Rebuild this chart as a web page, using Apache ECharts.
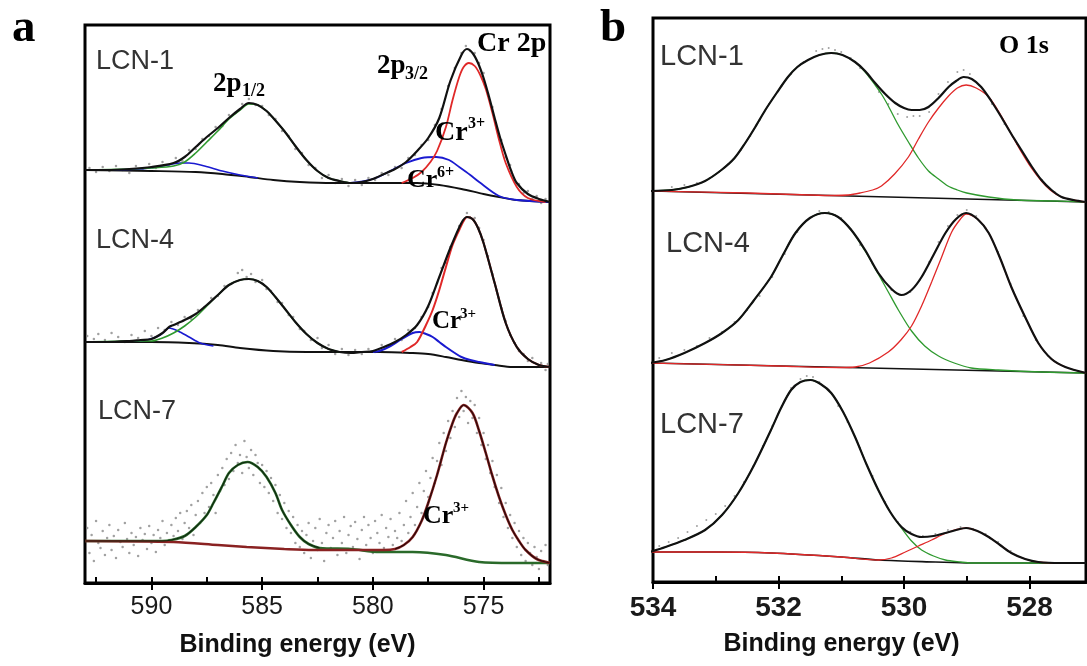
<!DOCTYPE html>
<html><head><meta charset="utf-8">
<script src="https://cdn.jsdelivr.net/npm/echarts@6/dist/echarts.min.js"></script>
<style>html,body{margin:0;padding:0;background:#fff}#c{width:1087px;height:666px}</style>
</head><body><div id="c"></div><script>
// ---------- Panel a : Cr 2p ----------
const aMajorTicks = [575, 580, 585, 590];
const aMinorTicks = [572.5, 577.5, 582.5, 587.5, 592.5];
// LCN-1
const a1Dots = [[592.8,415],[592.5,411],[592.2,416],[591.9,412],[591.6,417],[591.3,413],[591.0,410],[590.7,417],[590.4,414],[590.1,419],[589.8,415],[589.5,421],[589.2,418],[588.9,425],[588.6,422],[588.3,433],[588.0,434],[587.7,444],[587.4,447],[587.1,456],[586.8,457],[586.5,468],[586.2,470],[585.9,479],[585.6,484],[585.3,478],[585.0,477],[584.7,468],[584.4,464],[584.1,452],[583.8,447],[583.5,434],[583.2,430],[582.9,418],[582.6,415],[582.3,405],[582.0,408],[581.7,400],[581.4,404],[581.1,397],[580.8,403],[580.5,398],[580.2,405],[579.9,403],[579.6,410],[579.3,408],[579.0,416],[578.7,415],[578.4,425],[578.1,428],[577.8,438],[577.5,443],[577.2,458],[576.9,474],[576.6,497],[576.3,515],[576.0,530],[575.8,537],[575.6,532],[575.4,530],[575.2,520],[575.0,510],[574.8,489],[574.6,476],[574.4,455],[574.2,443],[574.0,426],[573.8,418],[573.6,403],[573.4,399],[573.2,390],[573.0,392],[572.8,384],[572.6,387],[572.4,380],[572.2,384]];
const a1Fit = [[593,413],[592,413],[591,414],[590,416],[589,420],[588.5,426],[588,436],[587.5,446],[587,455],[586.5,465],[586,474],[585.6,480],[585.2,478],[584.8,472],[584.5,465],[584,452],[583.5,437],[583,423],[582.5,412],[582,405],[581.5,402],[581,400],[580.5,401],[580,404],[579.5,409],[579,414],[578.5,421],[578,432],[577.5,445],[577,465],[576.5,502],[576,528],[575.75,534],[575.5,530],[575.25,520],[575,505],[574.75,486],[574.5,465],[574.25,445],[574,428],[573.75,412],[573.5,400],[573,389],[572.5,384],[572,381]];
const a1Bg = [[593,413],[590,412],[588,411],[586.8,409],[585.6,406],[584.5,403],[583.3,401],[581.8,400],[578,400],[577,398],[576,394],[575,389],[574.3,386],[573.5,383],[572,381]];
const a1P12 = [[593,413],[591,414],[590,415],[589,417],[588.5,421],[588,430],[587.5,441],[587,452],[586.5,464],[586,473],[585.6,479],[585.2,478],[584.8,472],[584.5,465],[584,452],[583.5,437],[583,423],[582.5,412],[582,405],[581.5,402],[581,400]];
const a1P12Cr6 = [[592,413],[590.5,414],[589.5,417],[588.7,420],[588.3,420],[587.6,417],[586.8,412],[586,408],[585.2,405]];
const a1Cr3 = [[578.7,400],[578.2,405],[577.8,411],[577.4,421],[577.1,432],[576.7,456],[576.4,483],[576.1,506],[575.9,516],[575.66,520],[575.4,517],[575.15,508],[574.9,494],[574.6,470],[574.3,443],[574,420],[573.5,396],[573,385],[572.2,381]];
const a1Cr6 = [[581,400],[580,404],[579.3,411],[578.5,420],[577.8,425],[577.14,426],[576.56,423],[576.1,416],[575.6,408],[575.2,401],[574.3,387],[573.5,383],[572.05,381]];
// LCN-4
const a4Dots = [[592.9,247],[592.6,244],[592.4,249],[592.1,243],[591.8,250],[591.5,246],[591.2,241],[590.9,248],[590.6,245],[590.3,252],[590.0,247],[589.7,255],[589.4,253],[589.1,261],[588.8,258],[588.5,266],[588.2,264],[587.9,273],[587.6,276],[587.3,285],[587.0,287],[586.7,297],[586.4,299],[586.1,310],[585.9,313],[585.7,306],[585.5,309],[585.3,301],[585.0,303],[584.8,294],[584.6,292],[584.3,281],[584.1,280],[583.8,268],[583.6,266],[583.3,254],[583.1,252],[582.8,243],[582.5,245],[582.3,235],[582.0,238],[581.7,229],[581.4,234],[581.1,228],[580.8,233],[580.5,229],[580.2,234],[579.9,231],[579.6,238],[579.3,237],[579.0,244],[578.7,243],[578.4,253],[578.1,255],[577.8,266],[577.5,276],[577.3,290],[577.1,300],[576.9,315],[576.7,320],[576.5,336],[576.3,344],[576.1,357],[575.9,363],[575.75,370],[575.6,365],[575.4,365],[575.2,355],[575.0,343],[574.8,327],[574.6,309],[574.4,292],[574.2,275],[574.0,262],[573.8,248],[573.6,240],[573.4,232],[573.2,229],[573.0,222],[572.8,225],[572.6,216],[572.4,220],[572.2,213],[572.1,219]];
const a4Fit = [[593,241],[592,241],[591,242],[590.5,243],[590,244],[589.5,250],[589.2,256],[589,258],[588.5,263],[588,269],[587.5,278],[587,288],[586.5,298],[586,303],[585.6,304],[585.2,302],[584.8,296],[584.4,286],[584,275],[583.5,261],[583,249],[582.5,240],[582,234],[581.5,231],[581,230],[580.5,231],[580,232],[579.5,236],[579,241],[578.5,248],[578,258],[577.5,277],[577,306],[576.5,335],[576,360],[575.75,366],[575.5,364],[575.25,355],[575,340],[574.5,300],[574,260],[573.5,236],[573,224],[572.5,218],[572,216]];
const a4Bg = [[593,241],[590,241],[588.3,240],[587,238],[586,235],[584.5,232],[583,231],[579.7,231],[578.2,230],[577.5,229],[576.7,226],[576,223],[575.2,220],[574.5,218],[573.7,216],[572,216]];
const a4P12 = [[593,241],[591,242],[590,242],[589.5,245],[589,250],[588.5,257],[588,266],[587.5,277],[587,288],[586.5,298],[586,303],[585.6,304],[585.2,302],[584.8,296],[584.4,286],[584,275],[583.5,261],[583,249],[582.5,240],[582,234],[581.5,231]];
const a4P12Cr6 = [[591,242],[590.2,243],[589.6,248],[589.2,255],[588.8,252],[588.3,246],[587.8,240],[587.2,237]];
const a4Cr3 = [[578.7,231],[578.3,236],[578,241],[577.6,258],[577.3,273],[577,293],[576.7,316],[576.4,338],[576.1,353],[575.9,362],[575.75,366],[575.5,364],[575.25,355],[575,340],[574.5,300],[574,260],[573.5,236],[573,224],[572.5,218],[572,216]];
const a4Cr6 = [[580,231],[579.7,232],[579.2,237],[578.7,244],[578.2,250],[577.9,251],[577.6,249],[577.3,246],[577,241],[576.7,236],[576.3,230],[576,226],[575.6,223],[575.2,221],[574.5,218]];
// LCN-7
const a7Dots = [[592.9,55],[592.8,30],[592.7,48],[592.6,22],[592.5,62],[592.4,40],[592.3,35],[592.2,52],[592.1,28],[592.0,45],[591.9,58],[591.8,33],[591.7,47],[591.6,25],[591.5,53],[591.4,41],[591.3,36],[591.2,60],[591.1,44],[591.0,30],[590.9,50],[590.8,38],[590.7,46],[590.6,27],[590.5,55],[590.4,43],[590.3,49],[590.2,34],[590.1,57],[590.0,40],[589.9,48],[589.8,31],[589.7,53],[589.6,45],[589.5,62],[589.4,38],[589.3,50],[589.2,43],[589.1,58],[589.0,47],
[588.9,65],[588.8,52],[588.7,70],[588.6,44],[588.5,60],[588.4,72],[588.3,55],[588.2,78],[588.1,48],[588.0,68],[587.9,82],[587.8,60],[587.7,90],[587.6,70],[587.5,96],[587.4,76],[587.3,100],[587.2,88],[587.1,70],[587.0,108],[586.9,92],[586.8,115],[586.7,98],[586.6,124],[586.5,104],[586.4,130],[586.3,112],[586.2,138],[586.1,120],[586.0,128],[585.9,110],[585.8,142],[585.7,126],[585.6,115],[585.5,133],[585.4,108],[585.3,128],[585.2,120],[585.1,100],[585.0,118],[584.9,96],[584.8,112],[584.7,90],[584.6,105],[584.5,82],[584.4,98],[584.3,70],[584.2,88],[584.1,64],[584.0,80],[583.9,55],[583.8,72],[583.7,50],[583.6,66],[583.5,40],[583.4,58],[583.3,36],[583.2,52],
[583.1,30],[583.0,48],[582.9,60],[582.8,25],[582.7,42],[582.6,55],[582.5,33],[582.4,64],[582.3,40],[582.2,22],[582.1,50],[582.0,58],[581.9,35],[581.8,45],[581.7,62],[581.6,28],[581.5,52],[581.4,40],[581.3,66],[581.2,30],[581.1,48],[581.0,57],[580.9,36],[580.8,61],[580.7,44],[580.6,24],[580.5,53],[580.4,66],[580.3,38],[580.2,58],[580.1,45],[580.0,30],[579.9,62],[579.8,50],[579.7,40],[579.6,68],[579.5,35],[579.4,55],[579.3,46],[579.2,64],[579.1,38],[579.0,52],
[578.9,45],[578.8,70],[578.7,42],[578.6,58],[578.5,82],[578.4,50],[578.3,66],[578.2,90],[578.1,58],[578.0,76],[577.9,100],[577.8,70],[577.7,92],[577.6,112],[577.5,86],[577.4,105],[577.3,125],[577.2,100],[577.1,122],[577.0,140],[576.9,118],[576.8,150],[576.7,132],[576.6,162],[576.5,145],[576.4,172],[576.3,156],[576.2,185],[576.1,166],[576.0,192],[575.9,172],[575.8,186],[575.7,160],[575.6,182],[575.5,165],[575.4,178],[575.3,150],[575.2,165],[575.1,138],[575.0,150],[574.9,124],[574.8,138],[574.7,110],[574.6,122],[574.5,96],[574.4,108],[574.3,80],[574.2,95],[574.1,66],[574.0,80],[573.9,55],[573.8,68],[573.7,45],[573.6,60],[573.5,36],[573.4,52],[573.3,28],[573.2,45],[573.1,22],[573.0,40],[572.9,30],[572.8,18],[572.7,36],[572.6,26],[572.5,14],[572.4,32],[572.3,22],[572.2,38],[572.1,18]];
const a7P12 = [[593,42],[591,42],[589.5,42],[589.1,43],[588.5,47],[588,56],[587.5,68],[587.2,80],[586.8,97],[586.5,110],[586.1,118],[585.66,121],[585.2,116],[584.8,106],[584.4,90],[584.1,73],[583.7,58],[583.3,46],[582.9,39],[582.4,35],[581,34],[579.7,31],[578.2,31],[576.7,28],[575.2,21],[573.7,20],[572,20]];
const a7P32 = [[593,42],[589,41],[587,38],[585.7,36],[584,34],[582.7,33],[581,33],[579.5,33],[579,34],[578.6,38],[578.2,46],[577.8,62],[577.5,80],[577.1,108],[576.7,140],[576.4,160],[576.2,170],[575.9,178],[575.5,170],[575.2,152],[574.9,130],[574.6,107],[574.3,86],[574,68],[573.7,53],[573.4,42],[573.1,33],[572.6,24],[572,20]];

// ---------- Panel b : O 1s ----------
const bMajorTicks = [528, 530, 532, 534];
const bMinorTicks = [529, 531, 533];
// LCN-1
const b1Dots = [[533.7,395],[533.5,397],[533.3,399],[533.1,404],[532.95,410],[532.8,418],[532.6,432],[532.45,446],[532.3,462],[532.15,478],[531.95,496],[531.8,508],[531.6,520],[531.4,531],[531.3,533],[531.2,534],[531.1,532],[531.0,530],[530.85,524],[530.7,514],[530.55,505],[530.4,490],[530.25,478],[530.1,468],[529.95,465],[529.85,466],[529.75,466],[529.6,470],[529.45,488],[529.3,500],[529.15,510],[529.05,512],[528.95,508],[528.8,497],[528.6,478],[528.4,458],[528.2,438],[528.0,418],[527.8,402],[527.6,390]];
const b1Fit = [[534.05,391],[533.7,392],[533.44,395],[533.17,401],[532.91,412],[532.7,424],[532.53,439],[532.37,455],[532.21,472],[532.03,489],[531.85,505],[531.7,515],[531.53,522],[531.35,527],[531.16,529],[530.98,527],[530.78,520],[530.62,511],[530.46,499],[530.3,488],[530.14,479],[530.0,474],[529.88,472],[529.75,472],[529.61,475],[529.45,484],[529.29,495],[529.17,501],[529.05,505],[528.92,503],[528.77,495],[528.61,481],[528.45,465],[528.29,448],[528.13,432],[527.97,416],[527.81,402],[527.65,392],[527.49,385],[527.3,382],[527.1,380]];
const b1Bg = [[534.05,391],[527.1,380]];
const b1Oa = [[534.05,391],[533.7,392],[533.44,395],[533.17,401],[532.91,412],[532.7,424],[532.53,439],[532.37,455],[532.21,472],[532.03,489],[531.85,505],[531.7,515],[531.53,522],[531.35,527],[531.16,529],[530.98,527],[530.78,520],[530.62,510],[530.46,497],[530.35,487],[530.25,476],[530.1,458],[529.93,440],[529.77,424],[529.61,411],[529.45,403],[529.3,396],[529.15,392],[529.0,389],[528.65,385],[528.2,382],[527.6,381],[527.1,380]];
const b1Ob = [[534.05,391],[532.5,389],[531.5,387],[531.1,386.5],[530.89,387],[530.7,389],[530.5,392],[530.36,396],[530.15,408],[529.93,425],[529.77,443],[529.61,460],[529.45,474],[529.29,486],[529.15,494],[529.01,497],[528.85,494],[528.65,485],[528.45,466],[528.29,448],[528.13,430],[527.97,414],[527.81,401],[527.65,391],[527.49,385],[527.3,382],[527.1,380]];
// LCN-4
const b4Dots = [[533.9,224],[533.7,229],[533.5,232],[533.3,236],[533.1,244],[532.9,250],[532.7,260],[532.5,272],[532.3,286],[532.1,305],[531.9,328],[531.7,350],[531.5,364],[531.35,371],[531.2,370],[531.0,364],[530.85,353],[530.7,337],[530.5,318],[530.35,302],[530.2,292],[530.05,287],[529.9,290],[529.75,302],[529.6,320],[529.45,340],[529.3,356],[529.15,367],[529.0,372],[528.85,366],[528.7,354],[528.5,330],[528.3,298],[528.1,266],[527.9,242],[527.7,226]];
const b4Fit = [[534.05,219],[533.8,222],[533.5,229],[533.17,239],[532.9,249],[532.64,262],[532.4,281],[532.12,305],[531.93,327],[531.73,349],[531.5,364],[531.26,369],[531.05,365],[530.84,352],[530.62,332],[530.41,309],[530.2,293],[530.04,287],[529.88,292],[529.72,305],[529.53,327],[529.34,349],[529.17,363],[529.01,369],[528.83,363],[528.65,349],[528.47,324],[528.29,295],[528.07,265],[527.86,239],[527.65,223],[527.43,215],[527.1,209]];
const b4Bg = [[534.05,219],[527.1,209]];
const b4Oa = [[534.05,219],[533.8,222],[533.5,229],[533.17,239],[532.9,249],[532.64,262],[532.4,281],[532.12,305],[531.93,327],[531.73,349],[531.5,364],[531.26,369],[531.05,365],[530.84,352],[530.62,331],[530.41,308],[530.25,290],[530.09,272],[529.88,251],[529.67,236],[529.45,226],[529.2,219],[528.93,214],[528.5,212],[527.8,210],[527.1,209]];
const b4Ob = [[534.05,219],[532,216],[531,214.5],[530.78,215],[530.55,219],[530.25,230],[530.05,242],[529.88,256],[529.72,276],[529.56,300],[529.4,325],[529.24,350],[529.1,363],[529.01,368],[528.83,363],[528.65,349],[528.47,324],[528.29,295],[528.07,265],[527.86,239],[527.65,223],[527.43,215],[527.1,209]];
// LCN-7
const b7Dots = [[533.9,36],[533.75,40],[533.6,44],[533.45,50],[533.3,56],[533.15,62],[533.0,68],[532.85,76],[532.7,86],[532.55,100],[532.4,116],[532.25,136],[532.1,156],[531.95,176],[531.8,194],[531.65,203],[531.55,206],[531.45,205],[531.35,200],[531.2,192],[531.05,176],[530.9,160],[530.7,134],[530.5,106],[530.3,80],[530.1,60],[529.9,50],[529.7,46],[529.5,48],[529.3,52],[529.1,55],[528.9,53],[528.7,48],[528.5,40],[528.3,31]];
const b7Fit = [[534.05,30],[533.8,35],[533.5,42],[533.17,52],[532.9,67],[532.64,89],[532.38,118],[532.12,152],[531.96,174],[531.8,192],[531.65,200],[531.49,202],[531.33,198],[531.16,189],[530.97,170],[530.78,145],[530.6,118],[530.41,92],[530.22,70],[530.04,55],[529.88,48],[529.72,45],[529.53,46],[529.34,49],[529.17,52],[529.01,54],[528.83,51],[528.65,45],[528.47,37],[528.29,29],[528.07,23],[527.86,20],[527.5,19],[527.1,19]];
const b7Bg = [[534.05,30],[533,30],[532.12,29],[531,25],[530.4,22],[529.5,20],[528.93,19],[527.1,19]];
const b7Oa = [[534.05,30],[533.8,35],[533.5,42],[533.17,52],[532.9,67],[532.64,89],[532.38,118],[532.12,152],[531.96,174],[531.8,192],[531.65,200],[531.49,202],[531.33,198],[531.16,189],[530.97,170],[530.78,145],[530.6,118],[530.41,92],[530.22,70],[530.04,54],[529.88,41],[529.72,32],[529.53,26],[529.34,22],[529.1,20],[528.93,19],[527.1,19]];
const b7Ob = [[534.05,30],[533,30],[532.12,29],[531,25],[530.41,22],[530.2,24],[529.98,30],[529.77,36],[529.56,42],[529.4,47],[529.24,51],[529.01,54],[528.83,51],[528.65,45],[528.47,37],[528.29,29],[528.07,23],[527.86,20],[527.5,19],[527.1,19]];

// ---------- chart ----------
const GREEN = '#2f9a2f', RED = '#e02828', BLUE = '#1a1ad0', BLACK = '#111';
function ln(data, xi, yi, color, width, smooth) {
  return {type:'line', xAxisIndex:xi, yAxisIndex:yi, data:data, symbol:'none', showSymbol:false,
    smooth: smooth === false ? false : 0.3, silent:true,
    lineStyle:{color:color, width:width}, animation:false};
}
function dots(data, xi, yi, size) {
  return {type:'scatter', xAxisIndex:xi, yAxisIndex:yi, data:data, symbol:'circle', symbolSize:size,
    silent:true, itemStyle:{color:'#8a8a8a'}, animation:false};
}
function axes(g, min, max, major, minor, lblFont, lblWeight, namePad) {
  const base = {type:'value', gridIndex:g, min:min, max:max, inverse:true, position:'bottom', splitLine:{show:false}};
  return [
    Object.assign({}, base, {
      axisLine:{show:true, onZero:false, lineStyle:{color:'#000', width:3}},
      axisTick:{show:true, customValues:major, length:7, lineStyle:{color:'#000', width:2}},
      axisLabel:{customValues:major, fontSize:lblFont, fontWeight:lblWeight, color:'#1a1a1a', margin:12, fontFamily:'Liberation Sans'},
      name:'Binding energy (eV)', nameLocation:'middle', nameGap:50,
      nameTextStyle:{fontSize:25, fontWeight:'bold', color:'#111', fontFamily:'Liberation Sans', padding:[0, namePad, 0, 0]}
    }),
    Object.assign({}, base, {
      axisLine:{show:false},
      axisTick:{show:true, inside:true, customValues:major.concat(minor), length:6, lineStyle:{color:'#000', width:2}},
      axisLabel:{show:false}
    })
  ];
}
const xAxes = axes(0, 572, 593, aMajorTicks, aMinorTicks, 25, 'normal', 40)
  .concat(axes(1, 527.1, 534, bMajorTicks, bMinorTicks, 28, 'bold', 56));

const series = [
  dots(a1Dots,0,0,2.5), dots(a4Dots,0,0,2.5), dots(a7Dots,0,0,2.5),
  ln(a1Bg,0,0,BLACK,1.8), ln(a1P12Cr6,0,0,BLUE,1.6), ln(a1P12,0,0,GREEN,1.6), ln(a1Cr6,0,0,BLUE,1.8), ln(a1Cr3,0,0,RED,1.8), ln(a1Fit,0,0,BLACK,2.2),
  ln(a4Bg,0,0,BLACK,2), ln(a4P12Cr6,0,0,BLUE,1.6), ln(a4P12,0,0,GREEN,1.6), ln(a4Cr6,0,0,BLUE,2), ln(a4Cr3,0,0,RED,2), ln(a4Fit,0,0,BLACK,2.2),
  ln(a7P12,0,0,'#2a6a2a',2.6), ln(a7P32,0,0,'#8a2222',2.6), ln(a7P12.slice(0,20),0,0,'#102810',1.2), ln(a7P32.slice(8),0,0,'#2a0a0a',1.2),
  dots(b1Dots,2,1,2), dots(b4Dots,2,1,2), dots(b7Dots,2,1,2),
  ln(b1Bg,2,1,BLACK,1.6,false), ln(b1Oa,2,1,GREEN,1.3), ln(b1Ob,2,1,RED,1.3), ln(b1Fit,2,1,BLACK,2.2),
  ln(b4Bg,2,1,BLACK,1.6,false), ln(b4Oa,2,1,GREEN,1.3), ln(b4Ob,2,1,RED,1.3), ln(b4Fit,2,1,BLACK,2.2),
  ln(b7Bg,2,1,BLACK,1.6), ln(b7Oa,2,1,GREEN,1.3), ln(b7Ob,2,1,RED,1.3), ln(b7Fit,2,1,BLACK,2.2)
];

function txt(x, y, s, font, color) {
  return {type:'text', x:x, y:y, silent:true, z:100,
    style:{text:s, font:font, fill:color || '#000', textAlign:'left', textVerticalAlign:'middle'}};
}
const SERIF = '"Liberation Serif", "Times New Roman", serif';
const SANS = '"Liberation Sans", Arial, sans-serif';
const graphics = [
  txt(12, 29, 'a', 'bold 47px ' + SERIF),
  txt(600, 29, 'b', 'bold 47px ' + SERIF),
  txt(96, 62, 'LCN-1', '27px ' + SANS, '#333'),
  txt(96, 241, 'LCN-4', '27px ' + SANS, '#333'),
  txt(98, 412, 'LCN-7', '27px ' + SANS, '#333'),
  txt(660, 57, 'LCN-1', '29px ' + SANS, '#333'),
  txt(666, 244, 'LCN-4', '29px ' + SANS, '#333'),
  txt(660, 425, 'LCN-7', '29px ' + SANS, '#333'),
  txt(477, 44, 'Cr 2p', 'bold 28px ' + SERIF),
  txt(377, 66, '2p', 'bold 27px ' + SERIF),
  txt(405, 74, '3/2', 'bold 18px ' + SERIF),
  txt(213, 84, '2p', 'bold 27px ' + SERIF),
  txt(242, 91, '1/2', 'bold 18px ' + SERIF),
  txt(435, 133, 'Cr', 'bold 28px ' + SERIF),
  txt(468, 124, '3+', 'bold 16px ' + SERIF),
  txt(407, 180, 'Cr', 'bold 26px ' + SERIF),
  txt(437, 173, '6+', 'bold 16px ' + SERIF),
  txt(432, 322, 'Cr', 'bold 25px ' + SERIF),
  txt(460, 314, '3+', 'bold 15px ' + SERIF),
  txt(423, 516, 'Cr', 'bold 26px ' + SERIF),
  txt(453, 508, '3+', 'bold 15px ' + SERIF),
  txt(999, 46, 'O 1s', 'bold 26px ' + SERIF)
];

const chart = echarts.init(document.getElementById('c'), null, {renderer:'canvas'});
chart.setOption({
  animation:false,
  backgroundColor:'#fff',
  grid:[
    {left:85, top:25, width:465, height:558, show:true, borderColor:'#000', borderWidth:3, backgroundColor:'transparent', outerBoundsMode:'none', containLabel:false},
    {left:653, top:18, width:433, height:564, show:true, borderColor:'#000', borderWidth:3, backgroundColor:'transparent', outerBoundsMode:'none', containLabel:false}
  ],
  xAxis: xAxes,
  yAxis:[
    {type:'value', gridIndex:0, min:0, max:558, show:false},
    {type:'value', gridIndex:1, min:0, max:564, show:false}
  ],
  series: series,
  graphic: graphics
});
</script></body></html>
